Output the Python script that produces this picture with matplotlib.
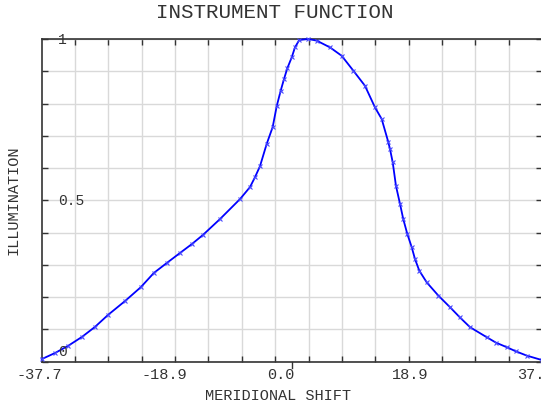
import numpy as np
import matplotlib
matplotlib.use("Agg")
import matplotlib.pyplot as plt
from matplotlib.transforms import ScaledTranslation, blended_transform_factory

# ---- data ----
shift = [-37.70, -35.69, -33.73, -31.62, -29.66, -27.70, -25.14, -22.76, -20.80,
         -18.84, -16.85, -15.04, -13.39, -10.83, -7.81, -6.31, -5.55, -4.80,
         -3.79, -2.89, -2.28, -1.68, -1.18, -0.69, -0.02,
         0.47, 1.12, 2.48, 3.74, 5.75, 7.51, 9.26, 11.02, 12.53, 13.54, 14.53,
         14.79, 15.20, 15.69, 16.30, 16.79, 17.40, 18.06, 18.56, 19.21, 20.32,
         22.07, 23.83, 25.34, 26.85, 29.36, 30.77, 32.38, 33.78, 35.39, 37.70]
illum = [0.008, 0.027, 0.049, 0.077, 0.108, 0.145, 0.188, 0.231, 0.275,
         0.306, 0.337, 0.365, 0.393, 0.442, 0.504, 0.541, 0.572, 0.606,
         0.675, 0.727, 0.792, 0.840, 0.876, 0.909, 0.943,
         0.974, 0.997, 1.000, 0.995, 0.974, 0.948, 0.902, 0.855, 0.788, 0.752, 0.681,
         0.659, 0.618, 0.545, 0.489, 0.442, 0.396, 0.355, 0.318, 0.282, 0.246,
         0.205, 0.169, 0.137, 0.107, 0.076, 0.059, 0.045, 0.032, 0.019, 0.005]

x_ticks = [-37.7, -18.9, 0.0, 18.9, 37.7]
x_tick_labels = ["-37.7", "-18.9", "0.0", "18.9", "37.7"]
y_labels = ["1", "0.5", "0"]
y_label_vals = [1.0, 0.5, 0.033]

title = "INSTRUMENT FUNCTION"
xlabel = "MERIDIONAL SHIFT"
ylabel = "ILLUMINATION"

xmin, xmax = -37.7, 37.7
mono = "Liberation Mono"
txtc = "#333333"

W, H = 541, 406
fig = plt.figure(figsize=(W / 100, H / 100), dpi=100)
ax = fig.add_axes([41.7 / W, (H - 362.7) / H, 500.3 / W, 322.7 / H])

ax.set_xlim(xmin, xmax)
ax.set_ylim(0, 1)

# grid
ax.set_xticks(np.linspace(xmin, xmax, 16), minor=True)
ax.set_yticks(np.linspace(0, 1, 11), minor=True)
ax.grid(which="minor", color="#d9d9d9", linewidth=1.0)
ax.set_axisbelow(True)
ax.tick_params(which="minor", direction="in", length=4, width=1,
               color="#333333", top=True, right=True, bottom=True, left=True)

ax.set_xticks(x_ticks)
ax.set_xticklabels(x_tick_labels, family=mono, fontsize=11, color=txtc, ha="left")
ax.tick_params(which="major", length=0, pad=4)
off = ScaledTranslation(-25 / 100, 0, fig.dpi_scale_trans)
for lab in ax.get_xticklabels():
    lab.set_transform(lab.get_transform() + off)
ax.set_yticks([])

# zero tick pointing downward
bt = blended_transform_factory(ax.transData, ax.transAxes)
ax.plot([0, 0], [0, -0.02], transform=bt, color="#333333", lw=1, clip_on=False)

for s in ax.spines.values():
    s.set_color("#333333")
    s.set_linewidth(1.2)

# y labels inside the plot
for lab, v in zip(y_labels, y_label_vals):
    ax.text(-35.2, v, lab, family=mono, fontsize=10.5, color=txtc,
            ha="left", va="center", zorder=5)

ax.plot(shift, illum, color="#0000ff", lw=1.3, marker="x", ms=3.5,
        mew=0.8, mec="#4a4aff", clip_on=False, zorder=4)

fig.text(275 / W, 1 - 13 / H, title, family=mono, fontsize=15, color=txtc,
         ha="center", va="center")
fig.text(278 / W, 1 - 396.5 / H, xlabel, family=mono, fontsize=11, color=txtc,
         ha="center", va="center")
fig.text(14 / W, 1 - 200 / H, ylabel, family=mono, fontsize=11, color=txtc,
         ha="center", va="center", rotation=90)

fig.savefig("out.png", dpi=100)
